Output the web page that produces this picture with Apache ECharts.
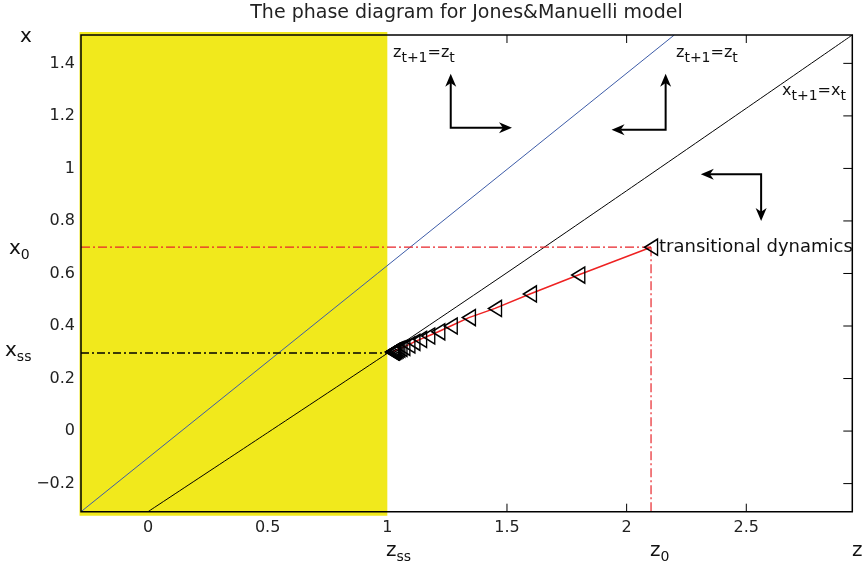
<!DOCTYPE html>
<html><head><meta charset="utf-8">
<script src="https://cdn.jsdelivr.net/npm/echarts@6/dist/echarts.min.js"></script>
<style>html,body{margin:0;padding:0;background:#fff}#c{width:862px;height:568px}</style>
</head><body><div id="c"></div>
<script>
// ---- data ----
const zTicks = [0, 0.5, 1, 1.5, 2, 2.5];
const xTicks = [-0.2, 0, 0.2, 0.4, 0.6, 0.8, 1, 1.2, 1.4];
const zRange = [-0.28, 2.943];
const xRange = [-0.307, 1.508];
const zSS = 1.0, xSS = 0.297, z0 = 2.102, x0 = 0.700;
// z_{t+1}=z_t locus (blue)
const blueZ = [-0.28, 2.199];
const blueX = [-0.307, 1.508];
// x_{t+1}=x_t locus (black)
const blackZ = [0, 0.5, 1, 1.5, 2, 2.5, 2.943];
const blackX = [-0.307, -0.006, 0.296, 0.603, 0.915, 1.229, 1.508];
// transitional dynamics path
const pathZ = [2.102, 1.798, 1.596, 1.450, 1.341, 1.265, 1.213, 1.171, 1.137, 1.109, 1.088, 1.067,
               1.055, 1.046, 1.039, 1.034, 1.030, 1.027, 1.025, 1.023, 1.022, 1.021, 1.020];
const pathX = [0.700, 0.594, 0.522, 0.467, 0.432, 0.400, 0.378, 0.362, 0.349, 0.338, 0.328, 0.319,
               0.315, 0.312, 0.309, 0.307, 0.305, 0.304, 0.303, 0.302, 0.302, 0.301, 0.301];
// direction arrows: corner and tips
const arrowCornerZ = [1.265, 2.163, 2.562];
const arrowCornerX = [1.155, 1.147, 0.978];
const arrowTipZ = [1.521, 1.937, 2.310];
const arrowTipX = [1.360, 1.360, 0.800];
const titleText = 'The phase diagram for Jones&Manuelli model';

// ---- chart ----
const FONT = 'DejaVu Sans';
const chart = echarts.init(document.getElementById('c'), null, {renderer: 'canvas'});
const fmt = v => (v < 0 ? '\u2212' + String(Math.abs(v)) : String(v));
const zip = (a, b) => a.map((v, i) => [v, b[i]]);

function head(tip, dx, dy) {
  const L = 13, W = 11;
  const nx = -dy, ny = dx;
  return [
    [tip[0], tip[1]],
    [tip[0] - L * dx + W / 2 * nx, tip[1] - L * dy + W / 2 * ny],
    [tip[0] - 0.7 * L * dx, tip[1] - 0.7 * L * dy],
    [tip[0] - L * dx - W / 2 * nx, tip[1] - L * dy - W / 2 * ny]
  ];
}

const axisCommon = {
  type: 'value', splitLine: {show: false}, axisTick: {show: false},
  axisLine: {show: false, onZero: false}
};
const labelStyle = {fontFamily: FONT, fontSize: 16, color: '#222', formatter: fmt};

const rich = {
  m: {fontFamily: FONT, fontSize: 20, color: '#111'},
  s: {fontFamily: FONT, fontSize: 14, color: '#111', padding: [12, 0, 0, 0]},
  a: {fontFamily: FONT, fontSize: 16, color: '#111'},
  b: {fontFamily: FONT, fontSize: 14, color: '#111', padding: [10, 0, 0, 0]}
};
function txt(x, y, text, extra) {
  return Object.assign({type: 'text', x: x, y: y, silent: true, z: 20,
    style: Object.assign({text: text, rich: rich, fill: '#111', fontFamily: FONT, fontSize: 20,
      align: 'left', verticalAlign: 'middle'}, extra || {})});
}

// inward tick marks on all four sides; those inside the shaded region (z < z_ss) are hidden by it
function tickSegments(api) {
  const segs = [];
  zTicks.forEach(z => {
    if (z <= zSS) return;
    const b = api.coord([z, xRange[0]]), t = api.coord([z, xRange[1]]);
    segs.push([[b[0], b[1]], [b[0], b[1] - 8]]);
    segs.push([[t[0], t[1]], [t[0], t[1] + 8]]);
  });
  xTicks.forEach(x => {
    const r = api.coord([zRange[1], x]);
    segs.push([[r[0], r[1]], [r[0] - 9, r[1]]]);
  });
  return segs.map(s => ({type: 'polyline', shape: {points: s}, style: {stroke: '#000', lineWidth: 1, fill: null}}));
}

const option = {
  animation: false,
  backgroundColor: '#fff',
  grid: {left: 81, right: 9.7, top: 35, bottom: 56.3, show: true, z: 10,
    borderColor: '#000', borderWidth: 1.5, backgroundColor: 'rgba(0,0,0,0)'},
  xAxis: Object.assign({}, axisCommon, {min: zRange[0], max: zRange[1], position: 'bottom',
      axisLabel: Object.assign({margin: 8, customValues: zTicks}, labelStyle)}),
  yAxis: Object.assign({}, axisCommon, {min: xRange[0], max: xRange[1], position: 'left',
      axisLabel: Object.assign({margin: 6, customValues: xTicks}, labelStyle)}),
  series: [
    { // region z < z_ss
      type: 'custom', z: 1, clip: false, silent: true,
      data: [[zRange[0], xRange[0], zSS, xRange[1]]],
      renderItem: function (params, api) {
        const p1 = api.coord([api.value(0), api.value(3)]);
        const p2 = api.coord([api.value(2), api.value(1)]);
        return {type: 'rect', shape: {x: p1[0] - 1.5, y: p1[1] - 3, width: p2[0] - p1[0] + 1.5, height: p2[1] - p1[1] + 7},
          style: {fill: '#f1e91c'}};
      }
    },
    {type: 'line', z: 3, data: zip(blueZ, blueX), showSymbol: false, silent: true,
      lineStyle: {color: '#3d5ca8', width: 1}},
    {type: 'line', z: 3, data: zip(blackZ, blackX), showSymbol: false, silent: true, smooth: 0.2,
      lineStyle: {color: '#000', width: 1}},
    {type: 'line', z: 3, data: [[zRange[0], x0], [z0, x0]], showSymbol: false, silent: true,
      lineStyle: {color: '#e8252a', width: 1.2, type: [9, 3, 2, 3]}},
    {type: 'line', z: 3, data: [[z0, x0], [z0, xRange[0]]], showSymbol: false, silent: true,
      lineStyle: {color: '#e8252a', width: 1.2, type: [9, 3, 2, 3]}},
    {type: 'line', z: 3, data: [[zRange[0], xSS], [zSS, xSS]], showSymbol: false, silent: true,
      lineStyle: {color: '#000', width: 1.5, type: [8, 3, 2, 3]}},
    {type: 'line', z: 4, data: zip(pathZ, pathX), silent: true,
      symbol: 'triangle', symbolRotate: 90, symbolSize: [16, 13], showSymbol: true, showAllSymbol: true,
      lineStyle: {color: '#ee2222', width: 1.5},
      itemStyle: {color: 'rgba(255,255,255,0)', borderColor: '#000', borderWidth: 1.5}},
    { // direction arrows + tick marks
      type: 'custom', z: 5, clip: false, silent: true,
      data: arrowCornerZ.map((z, i) => [z, arrowCornerX[i], arrowTipZ[i], arrowTipX[i]]),
      renderItem: function (params, api) {
        const c = api.coord([api.value(0), api.value(1)]);
        const h = api.coord([api.value(2), api.value(1)]);
        const v = api.coord([api.value(0), api.value(3)]);
        const sx = Math.sign(h[0] - c[0]), sy = Math.sign(v[1] - c[1]);
        const hEnd = [h[0] - sx * 9, h[1]], vEnd = [v[0], v[1] - sy * 9];
        const children = [
          {type: 'polyline', shape: {points: [hEnd, c, vEnd]}, style: {stroke: '#000', lineWidth: 2, fill: null}},
          {type: 'polygon', shape: {points: head(h, sx, 0)}, style: {fill: '#000'}},
          {type: 'polygon', shape: {points: head(v, 0, sy)}, style: {fill: '#000'}}
        ];
        if (params.dataIndex === 0) children.push.apply(children, tickSegments(api));
        return {type: 'group', children: children};
      }
    }
  ],
  graphic: [
    txt(466.5, 13, titleText, {fontSize: 19, align: 'center', fill: '#222'}),
    txt(26, 37, 'x', {align: 'center'}),
    txt(9, 249, '{m|x}{s|0}'),
    txt(5, 351, '{m|x}{s|ss}'),
    txt(386, 551, '{m|z}{s|ss}'),
    txt(650, 551, '{m|z}{s|0}'),
    txt(852, 551, 'z'),
    txt(393, 53, '{a|z}{b|t+1}{a|=z}{b|t}'),
    txt(676, 53, '{a|z}{b|t+1}{a|=z}{b|t}'),
    txt(782, 91, '{a|x}{b|t+1}{a|=x}{b|t}'),
    txt(659, 247, 'transitional dynamics', {fontSize: 18})
  ]
};
chart.setOption(option);
</script>
</body></html>
